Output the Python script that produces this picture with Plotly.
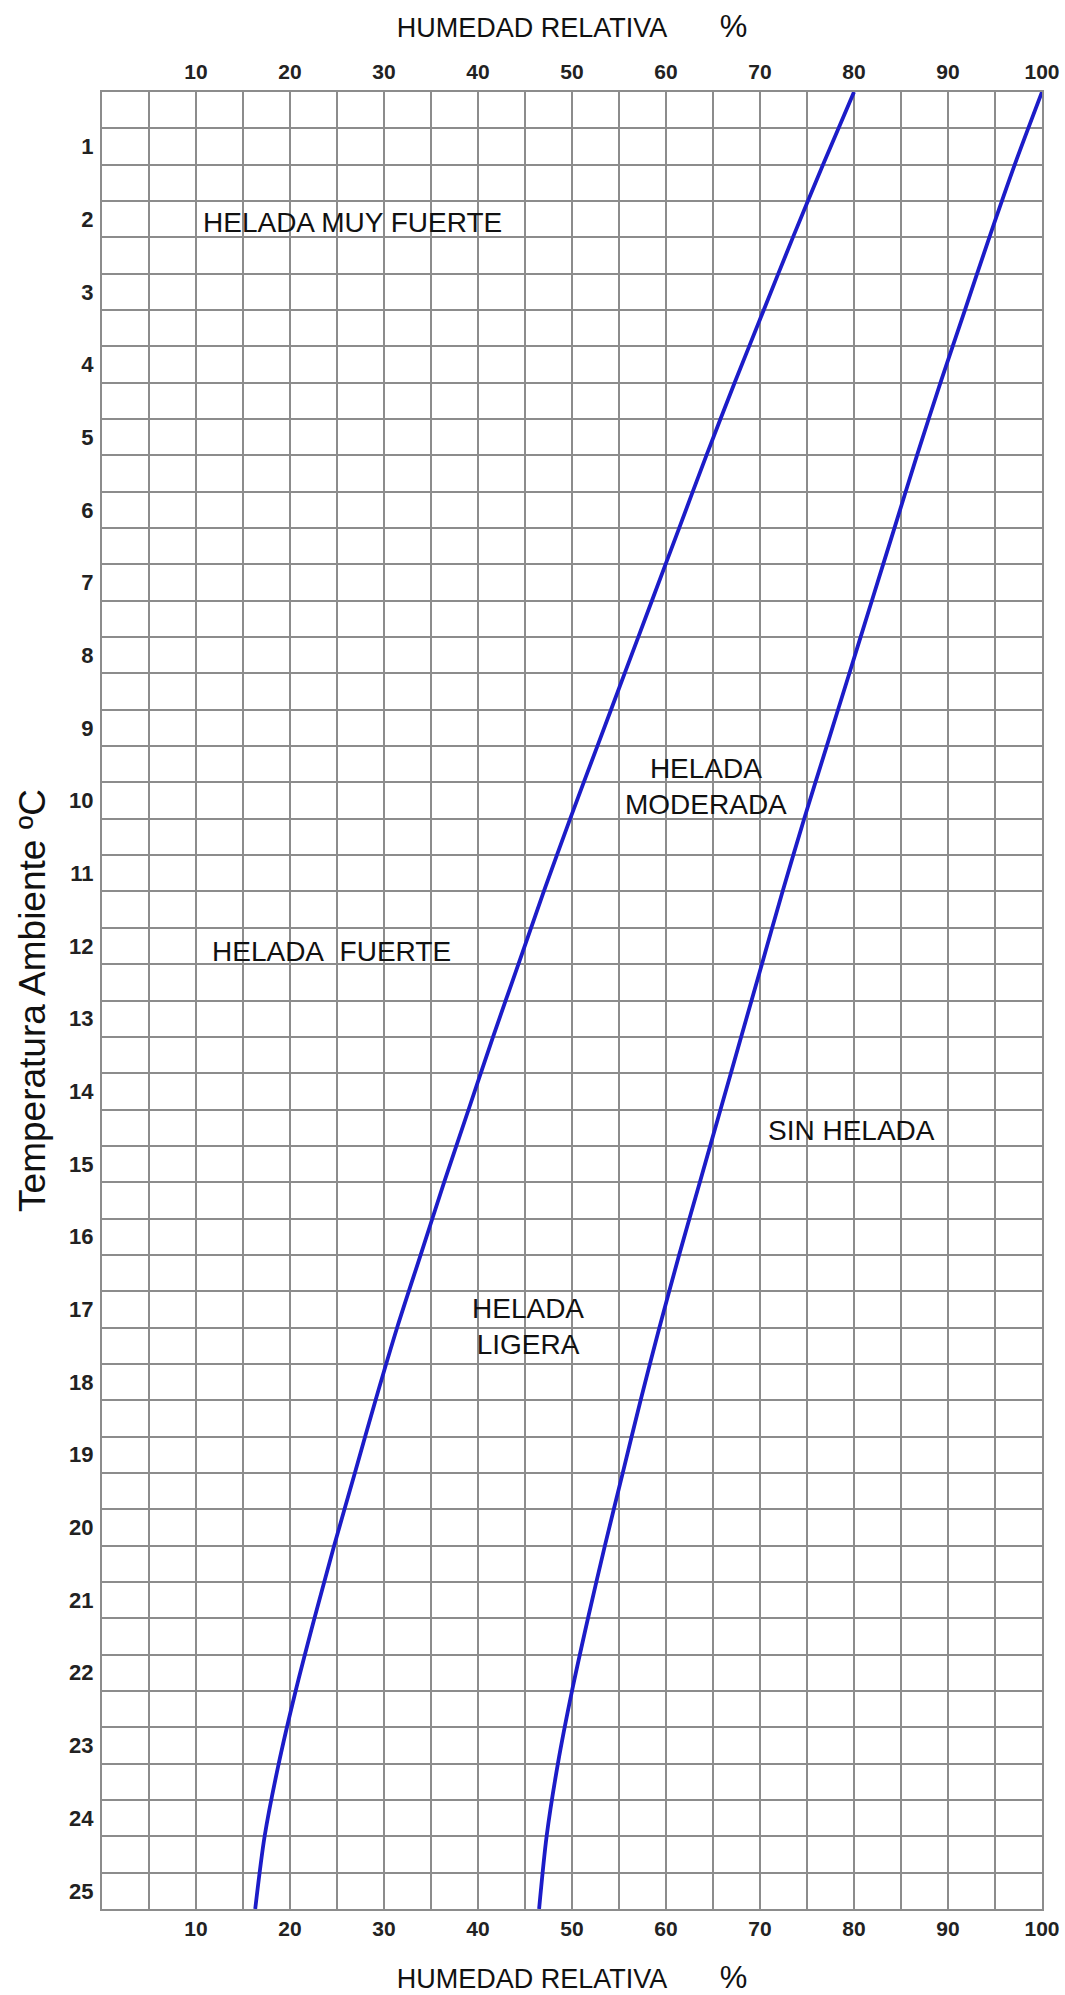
import plotly.graph_objects as go

# Temperatura ambiente (ºC) sampled along the curves
temperatura = [0.25, 1.25, 2.25, 3.25, 4.25, 5.25, 6.25, 7.25, 8.25, 9.25, 10.25,
               11.25, 12.25, 13.25, 14.25, 15.25, 16.25, 17.25, 18.25, 19.25, 20.25,
               21.25, 22.25, 23.25, 24.25, 25.25]
# Humedad relativa (%) of the left limit curve
hr_curva_1 = [80.0, 76.7, 73.5, 70.4, 67.3, 64.3, 61.4, 58.5, 55.6, 52.7, 49.8,
              47.0, 44.3, 41.6, 39.0, 36.4, 33.9, 31.4, 29.1, 26.9, 24.7,
              22.6, 20.6, 18.8, 17.3, 16.3]
# Humedad relativa (%) of the right limit curve
hr_curva_2 = [100.0, 97.1, 94.4, 91.8, 89.2, 86.7, 84.3, 81.9, 79.5, 77.1, 74.7,
              72.4, 70.2, 68.0, 65.8, 63.6, 61.4, 59.3, 57.3, 55.4, 53.5,
              51.7, 50.0, 48.5, 47.3, 46.5]

hr_ticks = [10, 20, 30, 40, 50, 60, 70, 80, 90, 100]
temp_ticks = [1, 2, 3, 4, 5, 6, 7, 8, 9, 10, 11, 12, 13, 14, 15, 16, 17, 18, 19, 20,
              21, 22, 23, 24, 25]

zonas_texto = ["HELADA MUY FUERTE", "HELADA\u00a0\u00a0FUERTE", "HELADA<br>MODERADA",
               "SIN HELADA", "HELADA<br>LIGERA"]
zonas_hr = [26.6, 24.4, 64.3, 79.7, 45.3]
zonas_t = [2.04, 12.08, 9.81, 14.54, 17.24]

GRID = "#8c8c8c"
BLUE = "#1c1cc8"
FONT = "Liberation Sans, Arial, Helvetica, sans-serif"

fig = go.Figure()
fig.add_trace(go.Scatter(x=hr_curva_1, y=temperatura, mode="lines",
                         line=dict(color=BLUE, width=3.8, shape="spline", smoothing=0.8),
                         showlegend=False, hoverinfo="skip"))
fig.add_trace(go.Scatter(x=hr_curva_2, y=temperatura, mode="lines", xaxis="x2",
                         line=dict(color=BLUE, width=3.8, shape="spline", smoothing=0.8),
                         showlegend=False, hoverinfo="skip"))

title_txt = ("HUMEDAD RELATIVA" + "\u00a0" * 7 +
             "<span style='font-size:31px'>%</span>")

axis_common = dict(range=[0, 100], tickmode="array", tickvals=hr_ticks,
                   ticktext=[str(v) for v in hr_ticks],
                   tickfont=dict(family=FONT, size=21, color="#222", weight="bold"),
                   ticks="outside", tickcolor="rgba(0,0,0,0)", zeroline=False,
                   fixedrange=True)

fig.update_layout(
    width=1065, height=1995,
    margin=dict(l=102, r=23, t=92, b=86, autoexpand=False),
    paper_bgcolor="white", plot_bgcolor="white",
    font=dict(family=FONT, color="#111"),
    xaxis=dict(**axis_common, side="bottom", ticklen=0,
               showgrid=True, gridcolor=GRID, gridwidth=1.5,
               minor=dict(tickmode="linear", tick0=0, dtick=5, showgrid=True,
                          gridcolor=GRID, gridwidth=1.5, ticks=""),
               showline=True, linecolor=GRID, linewidth=2, mirror=True,
               title=dict(text=title_txt, font=dict(family=FONT, size=27, color="#111"),
                          standoff=32)),
    xaxis2=dict(**axis_common, side="top", overlaying="x", anchor="y", ticklen=4,
                showgrid=False,
                title=dict(text=title_txt, font=dict(family=FONT, size=27, color="#111"),
                           standoff=14)),
    yaxis=dict(range=[25.25, 0.25], tickmode="array", tickvals=temp_ticks,
               ticktext=[str(v) for v in temp_ticks],
               tickfont=dict(family=FONT, size=22, color="#222", weight="bold"),
               ticks="outside", ticklen=2, tickcolor="rgba(0,0,0,0)",
               showgrid=False, zeroline=False, fixedrange=True,
               minor=dict(tickmode="linear", tick0=0.25, dtick=0.5, showgrid=True,
                          gridcolor=GRID, gridwidth=1.5, ticks=""),
               showline=True, linecolor=GRID, linewidth=2, mirror=True,
               title=dict(text="Temperatura Ambiente ºC",
                          font=dict(family=FONT, size=37, color="#111"), standoff=12)),
)

for txt, hx, ty in zip(zonas_texto, zonas_hr, zonas_t):
    fig.add_annotation(x=hx, y=ty, xref="x", yref="y", text=txt, showarrow=False,
                       font=dict(family=FONT, size=28, color="#111"),
                       xanchor="center", yanchor="middle", align="center")

fig.write_html("out.html", config={"displayModeBar": False},
               post_script="document.body.style.margin='0';"
                           "document.body.style.overflow='hidden';")
